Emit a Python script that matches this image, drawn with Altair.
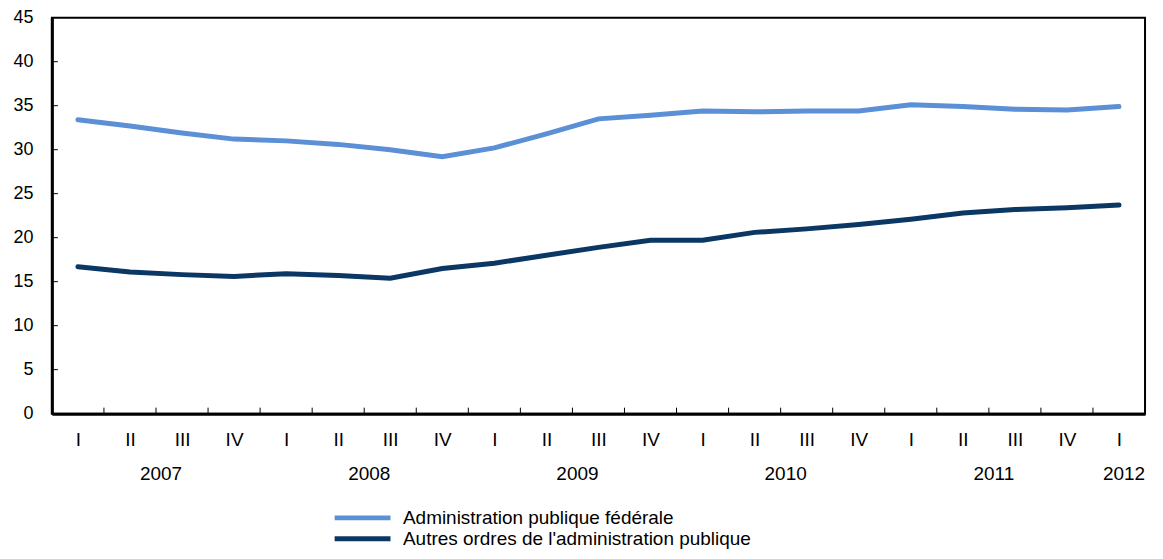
import json
import altair as alt
import pandas as pd

# ---- data ----
quarter_labels = ["I", "II", "III", "IV", "I", "II", "III", "IV", "I", "II", "III", "IV",
                  "I", "II", "III", "IV", "I", "II", "III", "IV", "I"]
quarter_years = [2007] * 4 + [2008] * 4 + [2009] * 4 + [2010] * 4 + [2011] * 4 + [2012]
federal = [33.4, 32.7, 31.9, 31.2, 31.0, 30.6, 30.0, 29.2, 30.2, 31.8, 33.5, 33.9,
           34.4, 34.3, 34.4, 34.4, 35.1, 34.9, 34.6, 34.5, 34.9]
other = [16.7, 16.1, 15.8, 15.6, 15.9, 15.7, 15.4, 16.5, 17.1, 18.0, 18.9, 19.7,
         19.7, 20.6, 21.0, 21.5, 22.1, 22.8, 23.2, 23.4, 23.7]
series_names = ["Administration publique fédérale",
                "Autres ordres de l'administration publique"]
series_colors = ["#5b8fd6", "#0a3764"]
y_tick_values = [0, 5, 10, 15, 20, 25, 30, 35, 40, 45]

FONT = "Liberation Sans"
W, H = 1096, 397
n = len(quarter_labels)

rows = []
for i in range(n):
    rows.append({"idx": i, "series": series_names[0], "value": federal[i]})
    rows.append({"idx": i, "series": series_names[1], "value": other[i]})
df = pd.DataFrame(rows)

# year labels centred under their quarters
years = sorted(set(quarter_years))
year_rows = []
for yv in years:
    ids = [i for i, q in enumerate(quarter_years) if q == yv]
    year_rows.append({"c": sum(ids) / len(ids), "year": str(yv)})
ydf = pd.DataFrame(year_rows)

bound_df = pd.DataFrame({"idx": [i + 0.5 for i in range(n - 1)]})
ytick_df = pd.DataFrame({"value": y_tick_values[1:-1]})

xscale = alt.Scale(domain=[-0.5, n - 0.5], nice=False, zero=False)
yscale = alt.Scale(domain=[0, 45], nice=False)

label_expr = json.dumps(quarter_labels) + "[datum.value]"

xaxis = alt.Axis(values=list(range(n)), labelExpr=label_expr, ticks=False,
                 grid=False, title=None, domainColor="black", domainWidth=3,
                 labelFontSize=19, labelPadding=17, labelColor="black",
                 labelFlush=False, labelOverlap=False, labelFont=FONT)
yaxis = alt.Axis(values=y_tick_values, ticks=False, grid=False, title=None,
                 domainColor="black", domainWidth=3, labelFontSize=18,
                 labelPadding=19, labelColor="black", labelFont=FONT)

lines = alt.Chart(df).mark_line(strokeWidth=5, strokeCap="round").encode(
    x=alt.X("idx:Q", scale=xscale, axis=xaxis),
    y=alt.Y("value:Q", scale=yscale, axis=yaxis),
    color=alt.Color("series:N",
                    scale=alt.Scale(domain=series_names, range=series_colors),
                    sort=series_names,
                    legend=alt.Legend(orient="none", legendX=281, legendY=491, title=None,
                                      symbolType="stroke", symbolSize=3136,
                                      symbolStrokeWidth=5, labelFontSize=19,
                                      labelFont=FONT, labelColor="black",
                                      clipHeight=21, rowPadding=0, labelOffset=10,
                                      labelLimit=700)),
)

xticks = alt.Chart(bound_df).mark_rule(color="black", strokeWidth=1).encode(
    x=alt.X("idx:Q", scale=xscale, axis=xaxis),
    y=alt.value(H), y2=alt.value(H - 6),
)

yticks = alt.Chart(ytick_df).mark_rule(color="black", strokeWidth=1).encode(
    y=alt.Y("value:Q", scale=yscale, axis=yaxis),
    x=alt.value(0), x2=alt.value(6),
)

year_text = alt.Chart(ydf).mark_text(fontSize=19, font=FONT, color="black",
                                     baseline="middle", dx=5).encode(
    x=alt.X("c:Q", scale=xscale, axis=xaxis),
    y=alt.value(458),
    text="year:N",
)

chart = alt.layer(lines, xticks, yticks, year_text).properties(
    width=W, height=H,
    background="white",
    autosize=alt.AutoSizeParams(type="none"),
    padding={"left": 44, "top": 9, "right": 10, "bottom": 137},
).configure_view(stroke="black", strokeWidth=2)

chart.save("out.html", embed_options={"renderer": "svg", "actions": False})
